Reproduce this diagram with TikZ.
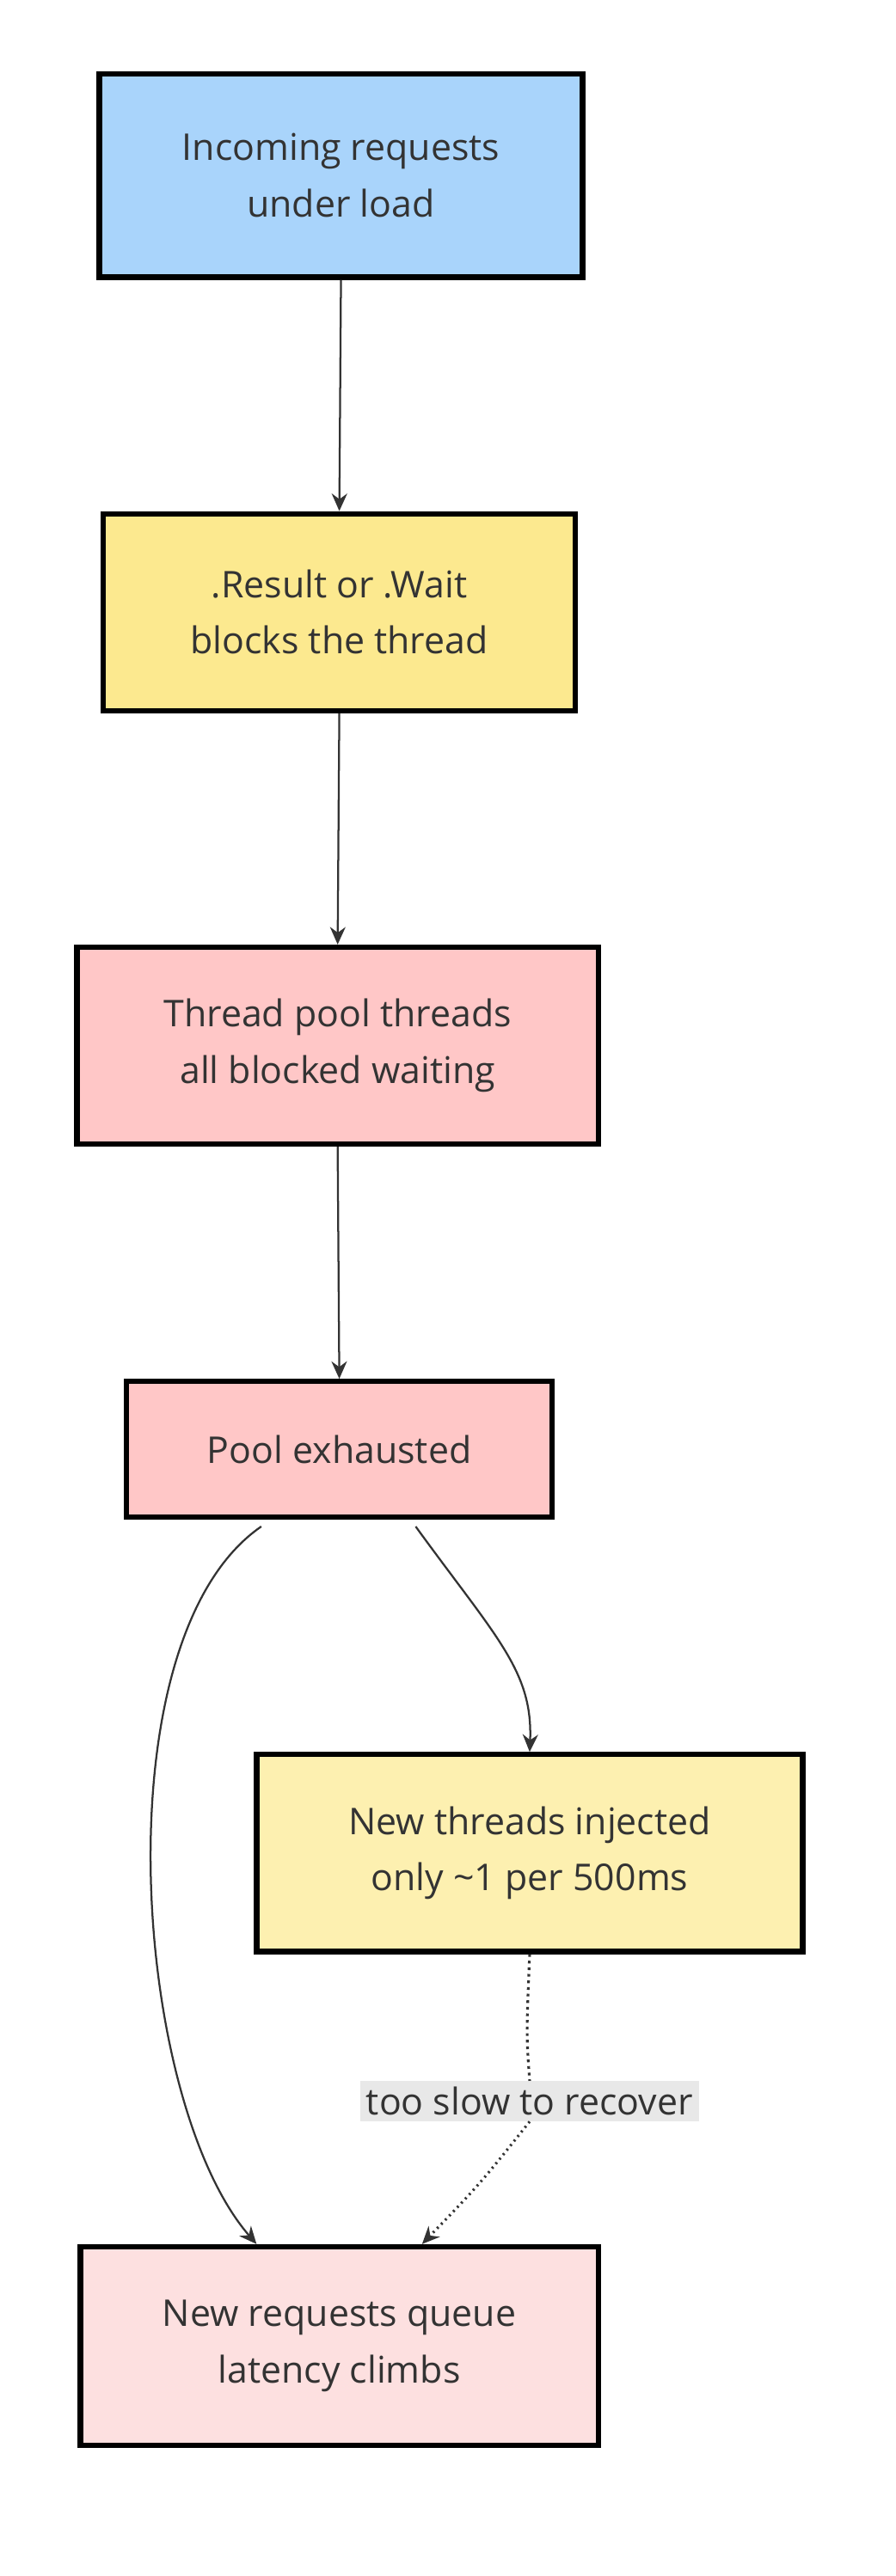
\documentclass[tikz,border=0pt]{standalone}
\usepackage{fontspec}
\setmainfont{Open Sans}
\usetikzlibrary{arrows.meta}
\definecolor{ink}{HTML}{333333}
\definecolor{fblue}{HTML}{A9D4FB}
\definecolor{fyel}{HTML}{FCE98F}
\definecolor{fred}{HTML}{FFC7C7}
\definecolor{flyel}{HTML}{FDF0B0}
\definecolor{flred}{HTML}{FDE0E0}
\definecolor{lblbg}{HTML}{E8E8E8}
\tikzset{
  box/.style={draw=black, line width=2.8pt, text=ink, align=center,
    font=\fontsize{19}{29}\selectfont, inner sep=0pt},
  flow/.style={draw=ink, line width=1pt, -{Stealth[length=9pt,width=8pt]}},
}
\begin{document}
\begin{tikzpicture}[x=0.03cm, y=-0.03cm]
\useasboundingbox (0,0) rectangle (541,1557);
\node[box, fill=fblue, minimum width=292*0.03cm, minimum height=123*0.03cm] (load) at (206,106) {Incoming requests\\under load};
\node[box, fill=fyel, minimum width=285*0.03cm, minimum height=119*0.03cm] (block) at (205,370) {.Result or .Wait\\blocks the thread};
\node[box, fill=fred, minimum width=315*0.03cm, minimum height=119*0.03cm] (pool) at (204,632) {Thread pool threads\\all blocked waiting};
\node[box, fill=fred, minimum width=257*0.03cm, minimum height=82*0.03cm] (exh) at (205,876) {Pool exhausted};
\node[box, fill=flyel, minimum width=330*0.03cm, minimum height=119*0.03cm] (inject) at (320,1120) {New threads injected\\only \textasciitilde1 per 500ms};
\node[box, fill=flred, minimum width=313*0.03cm, minimum height=120*0.03cm] (queue) at (205,1418) {New requests queue\\latency climbs};
\node[fill=lblbg, text=ink, inner sep=3pt, font=\fontsize{19}{22}\selectfont] (slow) at (320,1270) {too slow to recover};

\draw[flow] (load.south) -- (block.north);
\draw[flow] (block.south) -- (pool.north);
\draw[flow] (pool.south) -- (exh.north);
\draw[flow] (exh.south east) ++(-84,4) coordinate (e1)
  (e1) .. controls (300,990) and (322,1010) .. (inject.north);
\draw[flow] (exh.south west) ++(83,4) coordinate (e2)
  (e2) .. controls (60,990) and (80,1270) .. ([xshift=-50*0.03cm]queue.north);
\draw[dotted, line width=1.4pt, draw=ink] (inject.south) .. controls (318,1230) .. (slow.north);
\draw[flow, dotted, line width=1.4pt] (slow.south) .. controls (290,1320) .. ([xshift=50*0.03cm]queue.north);
\end{tikzpicture}
\end{document}
